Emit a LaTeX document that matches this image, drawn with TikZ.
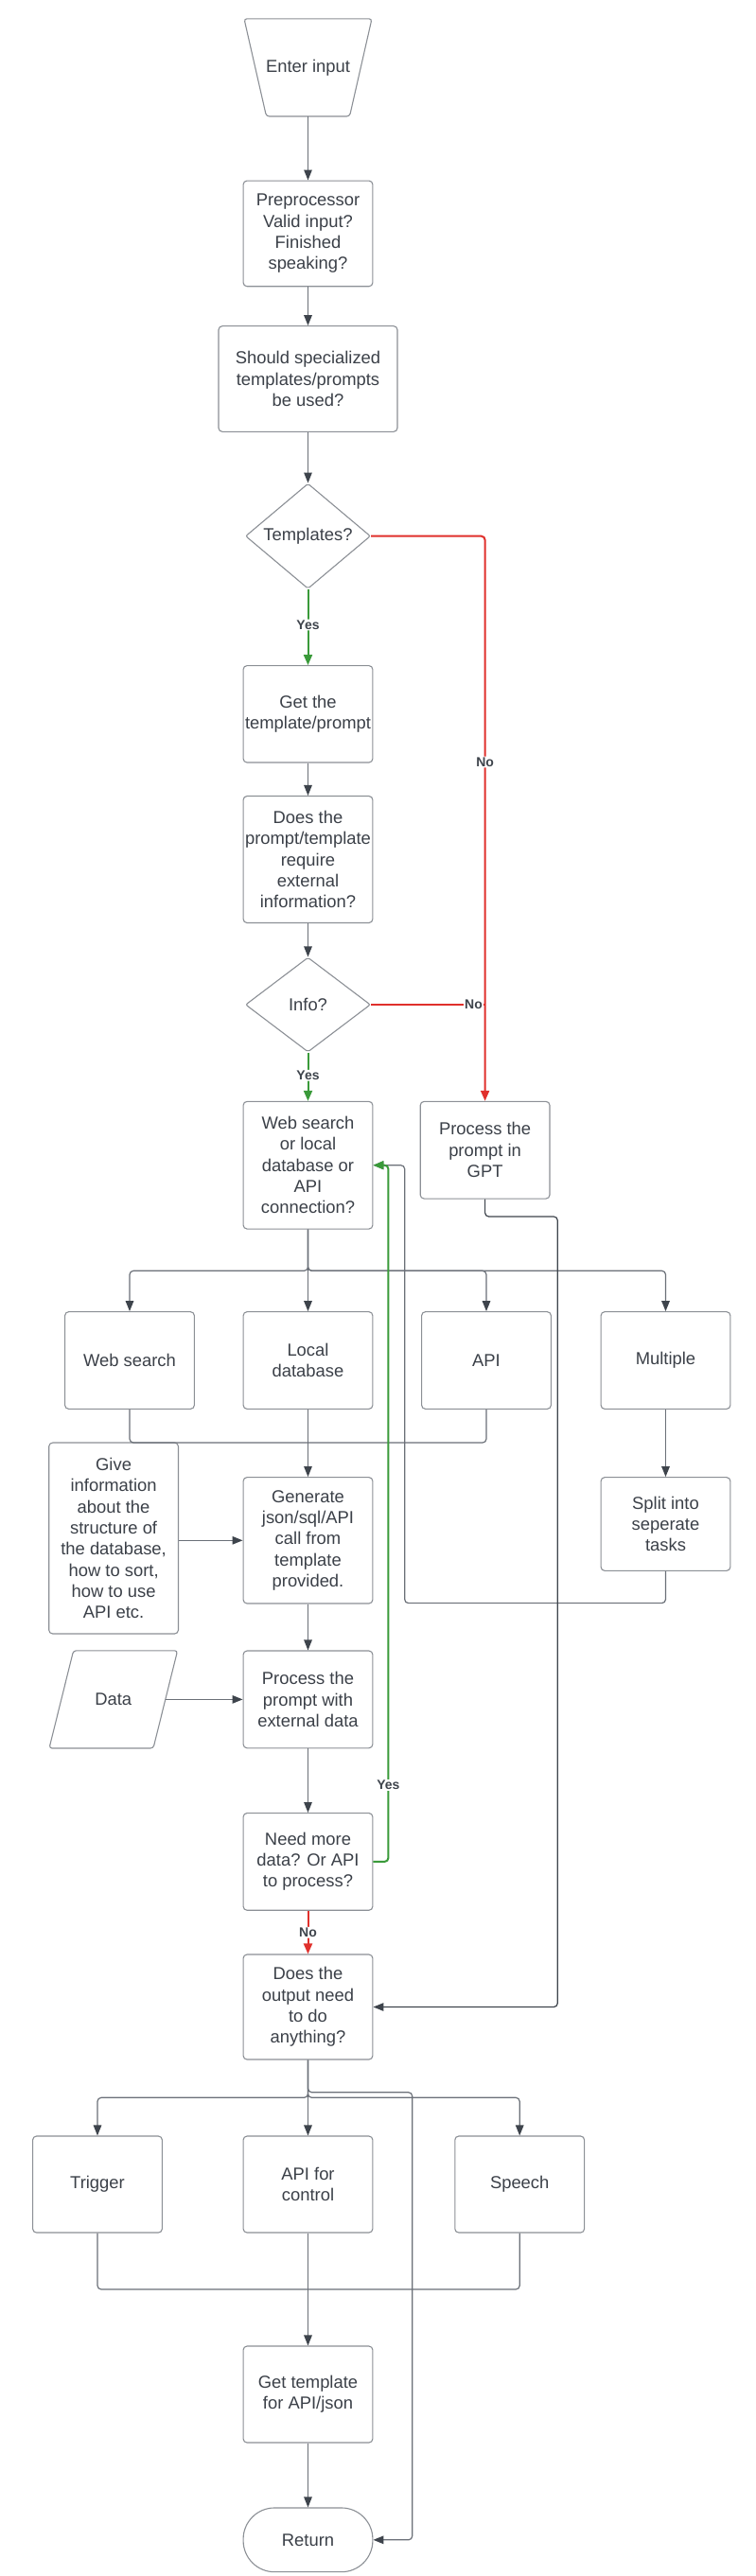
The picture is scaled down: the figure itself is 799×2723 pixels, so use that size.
\documentclass[tikz,border=0pt]{standalone}
\usepackage{fontspec}
\setmainfont{Liberation Sans}
\usetikzlibrary{arrows.meta,shapes.geometric,calc}
\definecolor{boxgray}{HTML}{8C9096}
\definecolor{linegray}{HTML}{6B7078}
\definecolor{darkline}{HTML}{3E444C}
\definecolor{txt}{HTML}{3B4048}
\definecolor{grn}{HTML}{3A9A3A}
\definecolor{rd}{HTML}{E0302C}
\newcommand\mfs{\fontsize{18.4}{22.3}\selectfont}
\tikzset{
  box/.style={draw=boxgray, line width=1.1pt, rounded corners=4pt, align=center, text=txt, font=\mfs, inner sep=0pt, minimum width=136.8pt},
  plain/.style={align=center, text=txt, font=\mfs, inner sep=0pt},
  dia/.style={diamond, draw=boxgray, line width=1.1pt, rounded corners=2pt, align=center, text=txt, font=\mfs, inner sep=0pt, minimum width=132pt, minimum height=100pt},
  outline/.style={draw=boxgray, line width=1.1pt, rounded corners=3pt},
  conn/.style={draw=linegray, line width=1.2pt, rounded corners=4pt, -{Triangle[length=11pt,width=8.5pt,color=darkline]}},
  seg/.style={draw=linegray, line width=1.2pt, rounded corners=4pt},
  gconn/.style={draw=grn, line width=2pt, rounded corners=4pt, -{Triangle[length=11pt,width=9pt]}},
  rconn/.style={draw=rd, line width=2pt, rounded corners=4pt, -{Triangle[length=11pt,width=9pt]}},
  lbl/.style={fill=white, text=darkline, font=\bfseries\fontsize{14}{16}\selectfont, inner sep=1pt}
}
\begin{document}
\begin{tikzpicture}[x=1pt,y=-1pt]
\fill[white] (0,0) rectangle (799,2723);
\useasboundingbox (0,0) rectangle (799,2723);

% nodes
\node[plain, minimum width=134.6pt, minimum height=102.8pt] (input) at (325.5,71.4) {Enter input};
\draw[outline] (input.north west) -- (input.north east) -- ([xshift=-23.5pt]input.south east) -- ([xshift=23.5pt]input.south west) -- cycle;
\node[box, minimum height=111.7pt] (pre) at (325.5,246.9) {Preprocessor\\Valid input?\\Finished\\speaking?};
\node[box, minimum width=189pt, minimum height=111.7pt] (should) at (325.5,400.5) {Should specialized\\templates/prompts\\be used?};
\node[dia] (tmpl) at (325.5,566.7) {Templates?};
\node[box, minimum height=102.4pt] (get) at (325.5,754.8) {Get the\\template/prompt};
\node[box, minimum height=134pt] (does) at (325.5,908.5) {Does the\\prompt/template\\require\\external\\information?};
\node[dia] (info) at (325.5,1062) {Info?};
\node[box, minimum height=134.7pt] (web) at (325.5,1231.7) {Web search\\or local\\database or\\API\\connection?};
\node[box, minimum height=102.7pt] (gpt) at (512.6,1215.7) {Process the\\prompt in\\GPT};
\node[box, minimum height=102.7pt] (ws) at (137,1438) {Web search};
\node[box, minimum height=102.7pt] (ld) at (325.5,1438) {Local\\database};
\node[box, minimum height=102.7pt] (api) at (514,1438) {API};
\node[box, minimum height=102.7pt] (mult) at (703.5,1438) {Multiple};
\node[box, minimum height=202pt] (give) at (120.1,1626) {Give\\information\\about the\\structure of\\the database,\\how to sort,\\how to use\\API etc.};
\node[box, minimum height=133.4pt] (gen) at (325.5,1628.3) {Generate\\json/sql/API\\call from\\template\\provided.};
\node[box, minimum height=98.7pt] (split) at (703.5,1611) {Split into\\seperate\\tasks};
\node[plain, minimum width=135.2pt, minimum height=102.8pt] (data) at (119.8,1796.4) {Data};
\draw[outline] ([xshift=25.6pt]data.north west) -- (data.north east) -- ([xshift=-25.6pt]data.south east) -- (data.south west) -- cycle;
\node[box, minimum height=102.8pt] (proc) at (325.5,1796.4) {Process the\\prompt with\\external data};
\node[box, minimum height=102.7pt] (need) at (325.5,1967.9) {Need more\\data? Or API\\to process?};
\node[box, minimum height=111pt] (out) at (325.5,2121.5) {Does the\\output need\\to do\\anything?};
\node[box, minimum height=102pt] (trig) at (103,2309) {Trigger};
\node[box, minimum height=102pt] (apic) at (325.5,2309) {API for\\control};
\node[box, minimum height=102pt] (speech) at (549.2,2309) {Speech};
\node[box, minimum height=102pt] (gt) at (325.5,2531) {Get template\\for API/json};
\node[box, minimum height=67.7pt, rounded corners=33pt] (ret) at (325.5,2684.8) {Return};

% coordinates
\coordinate (wb) at (325.5,1343.3);
\coordinate (mg) at (325.5,1525);
\coordinate (lp) at (427.7,1694.6);
\coordinate (g1) at (589.3,1286);
\coordinate (ob) at (325.5,2217.3);
\coordinate (rt) at (435.7,2211.7);
\coordinate (mb) at (325.5,2420);

% connectors
\draw[conn] (input.south) -- (pre.north);
\draw[conn] (pre.south) -- (should.north);
\draw[conn] (should.south) -- (tmpl.north);
\draw[gconn] (tmpl.south) -- node[lbl, pos=0.47] {Yes} (get.north);
\draw[conn] (get.south) -- (does.north);
\draw[conn] (does.south) -- (info.north);
\draw[gconn] (info.south) -- node[lbl, pos=0.47] {Yes} (web.north);
\draw[draw=rd, line width=2pt] (info.east) -- node[lbl, pos=0.9] {No} (gpt.north |- info.east);
\draw[rconn] (tmpl.east) -| node[lbl, pos=0.7] {No} (gpt.north);

% web branches
\draw[conn] (web.south) -- (wb) -| (ws.north);
\draw[conn] (web.south) -- (ld.north);
\draw[conn] (web.south) -- (wb) -| (api.north);
\draw[conn] (web.south) -- (wb) -| (mult.north);

% merge into generate
\draw[seg] (ws.south) |- (mg);
\draw[seg] (api.south) |- (mg);
\draw[conn] (ld.south) -- (gen.north);
\draw[conn] (mult.south) -- (split.north);
\draw[conn] (give.east |- gen.west) -- (gen.west);
\draw[conn] ([xshift=-12.8pt]data.east) -- (proc.west);
\draw[conn] (gen.south) -- (proc.north);
\draw[conn] (proc.south) -- (need.north);

% loops back to web
\draw[conn] (split.south) |- (lp) |- (web.east);
\draw[gconn] (need.east) -- ++(16pt,0) |- node[lbl, pos=0.055] {Yes} (web.east);
\draw[rconn] (need.south) -- node[lbl, pos=0.5] {No} (out.north);

% gpt to output
\draw[conn, draw=darkline] (gpt.south) |- (g1) |- (out.east);

% output branches
\draw[conn] (out.south) -- (ob) -| (trig.north);
\draw[conn] (out.south) -- (apic.north);
\draw[conn] (out.south) -- (ob) -| (speech.north);
\draw[conn] (out.south) |- (rt) |- (ret.east);

% merge into get template
\draw[seg] (trig.south) |- (mb);
\draw[seg] (speech.south) |- (mb);
\draw[conn] (apic.south) -- (gt.north);
\draw[conn] (gt.south) -- (ret.north);
\end{tikzpicture}
\end{document}
